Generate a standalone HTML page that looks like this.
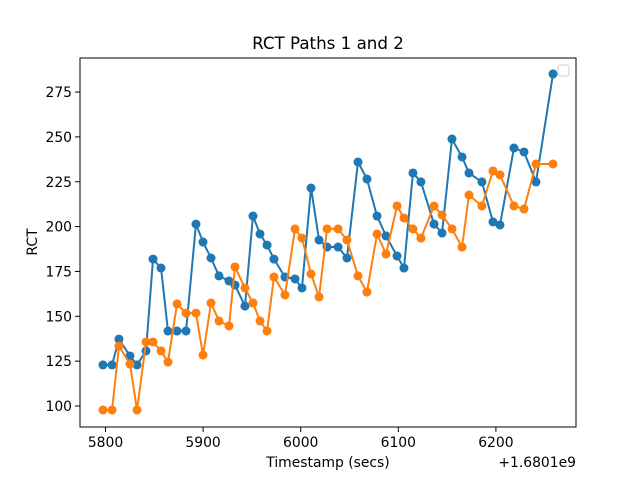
<!DOCTYPE html>
<html><head><meta charset="utf-8"><style>
body{margin:0;background:#fff;font-family:"Liberation Sans","DejaVu Sans",sans-serif}
svg text{font-family:"DejaVu Sans","Liberation Sans",sans-serif}
</style></head><body>
<svg id="c" width="640" height="480" xmlns="http://www.w3.org/2000/svg">
<rect width="640" height="480" fill="#fff"/>
<text x="328" y="49" font-size="16.7" text-anchor="middle">RCT Paths 1 and 2</text>
<g id="plot"></g>
<rect x="80" y="58" width="496" height="369" fill="none" stroke="#000" stroke-width="1"/>
<text x="328" y="467" font-size="13.9" text-anchor="middle">Timestamp (secs)</text>
<text x="576" y="467" font-size="13.9" text-anchor="end">+1.6801e9</text>
<text transform="translate(37,242) rotate(-90)" font-size="13.9" text-anchor="middle">RCT</text>
<rect x="558" y="65" width="11" height="11" rx="2" fill="#fff" stroke="#ccc"/>
</svg>
<script>
const xs=[5797.4,5806.7,5813.8,5825.1,5832.3,5841.5,5848.7,5856.9,5864.0,5873.3,5882.5,5892.7,5899.9,5908.1,5916.3,5926.5,5932.7,5942.9,5951.1,5958.3,5965.5,5972.6,5983.9,5994.2,6001.3,6010.6,6018.8,6027.0,6038.3,6047.4,6058.7,6067.9,6078.2,6087.4,6098.7,6105.8,6115.0,6123.2,6136.6,6144.8,6155.0,6165.3,6172.4,6185.7,6197.0,6204.2,6218.5,6228.8,6241.1,6258.5];
const path1=[122.9,122.9,137.3,127.9,122.9,130.7,181.9,176.9,141.8,141.8,141.8,201.4,191.4,182.5,172.5,169.7,167.4,155.7,205.9,195.9,189.7,181.9,171.9,170.8,165.8,221.5,192.5,188.6,188.6,182.5,236.0,226.5,205.9,194.8,183.6,176.9,229.9,224.9,201.4,196.4,248.8,238.8,229.9,224.9,202.6,200.9,243.8,241.6,224.9,285.1];
const path2=[97.8,97.8,133.4,123.4,97.8,135.7,135.7,130.7,124.5,156.9,151.8,151.8,128.4,157.4,147.4,144.6,177.5,165.8,157.4,147.4,141.8,171.9,161.9,198.7,193.6,173.6,160.8,198.7,198.7,192.5,172.5,163.5,195.9,184.7,211.5,204.8,198.7,193.6,211.5,206.5,198.7,188.6,217.6,211.5,231.0,228.8,211.5,209.8,234.9,234.9];
const xTicks=[5800,5900,6000,6100,6200];
const yTicks=[100,125,150,175,200,225,250,275];
const X=v=>105.5+(v-5800)*0.976;
const Y=v=>406-(v-100)*1.794;
const NS="http://www.w3.org/2000/svg";
const g=document.getElementById('plot');
function el(t,a){const e=document.createElementNS(NS,t);for(const k in a)e.setAttribute(k,a[k]);g.appendChild(e);return e;}
xTicks.forEach(t=>{
 const l=el('line',{x1:X(t),x2:X(t),y1:427,y2:432,stroke:'#000'});
 
 
 const tx=el('text',{x:X(t),y:447,'font-size':13.9,'text-anchor':'middle'});tx.textContent=t;
 
 
});
yTicks.forEach(t=>{
 const l=el('line',{x1:75,x2:80,y1:Y(t),y2:Y(t),stroke:'#000'});
 
 
 const tx=el('text',{x:72,y:Y(t)+5,'font-size':13.9,'text-anchor':'end'});tx.textContent=t;
 
 
});
[[path1,'#1f77b4','path-1'],[path2,'#ff7f0e','path-2']].forEach(([ys,c,n])=>{
 const p=el('polyline',{points:ys.map((v,i)=>X(xs[i])+','+Y(v)).join(' '),fill:'none',stroke:c,'stroke-width':2});
 
 
 ys.forEach((v,i)=>{
  const d=el('circle',{cx:X(xs[i]),cy:Y(v),r:4.5,fill:c});
  
  
 });
});
</script>
</body></html>
